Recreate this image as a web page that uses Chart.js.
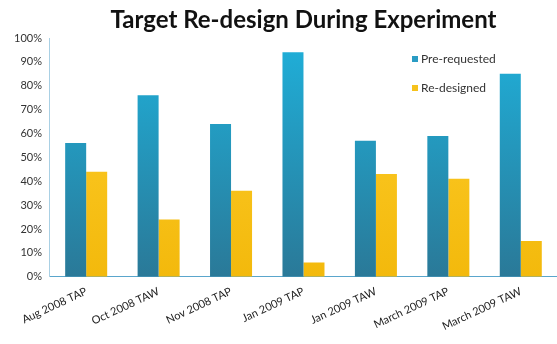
<!DOCTYPE html>
<html>
<head>
<meta charset="utf-8">
<script src="https://cdn.jsdelivr.net/npm/chart.js@4/dist/chart.umd.min.js"></script>
<style>
  html, body { margin: 0; padding: 0; background: #fff; }
  #wrap { width: 557px; height: 344px; }
</style>
</head>
<body>
<div id="wrap"><canvas id="chart"></canvas></div>
<script>
// chart data
const titleText = 'Target Re-design During Experiment';
const categories = [
    'Aug 2008 TAP',
    'Oct 2008 TAW',
    'Nov 2008 TAP',
    'Jan 2009 TAP',
    'Jan 2009 TAW',
    'March 2009 TAP',
    'March 2009 TAW'
];
const seriesNames = ['Pre-requested', 'Re-designed'];
const preRequested = [56, 76, 64, 94, 57, 59, 85];
const reDesigned = [44, 24, 36, 6, 43, 41, 15];
const yTicks = [0, 10, 20, 30, 40, 50, 60, 70, 80, 90, 100];

// vertical gradient for the bars
function barFill(top, bottom){
    return function(c){
        const area = c.chart.chartArea;
        if(!area) return top;
        const g = c.chart.ctx.createLinearGradient(0, area.top, 0, area.bottom);
        g.addColorStop(0, top);
        g.addColorStop(1, bottom);
        return g;
    };
}

// title over the plot area and the legend inside it
const overlay = {
    id: 'overlay',
    afterDraw(chart){
        const ctx = chart.ctx;
        const area = chart.chartArea;
        ctx.save();
        ctx.fillStyle = '#111';
        ctx.font = 'bold 24px Lato';
        ctx.textAlign = 'center';
        ctx.textBaseline = 'middle';
        ctx.fillText(titleText, (area.left + area.right) / 2, 20);
        ctx.font = '12px Lato';
        ctx.textAlign = 'left';
        chart.data.datasets.forEach(function(ds, i){
            const y = 59 + i * 29;
            ctx.fillStyle = ds.legendColor;
            ctx.fillRect(412, y - 3, 6, 6);
            ctx.fillStyle = '#333';
            ctx.fillText(ds.label, 421, y);
        });
        ctx.restore();
    }
};

const ctx = document.getElementById('chart').getContext('2d');
const chart = new Chart(ctx, {
    type: 'bar',
    data: {
        labels: categories,
        datasets: [{
            label: seriesNames[0],
            data: preRequested,
            backgroundColor: barFill('#1fb0da', '#2a7998'),
            legendColor: '#2a9cc4',
            categoryPercentage: 0.58,
            barPercentage: 1.0
        }, {
            label: seriesNames[1],
            data: reDesigned,
            backgroundColor: barFill('#ffcf2e', '#f3b90c'),
            legendColor: '#f6c21c',
            categoryPercentage: 0.58,
            barPercentage: 1.0
        }]
    },
    options: {
        responsive: true,
        maintainAspectRatio: false,
        animation: false,
        layout: {
            padding: { top: 38, right: 0, left: 6, bottom: 3 }
        },
        plugins: {
            legend: { display: false },
            title: { display: false },
            tooltip: { enabled: false }
        },
        scales: {
            x: {
                grid: { display: false, drawTicks: false },
                border: { color: '#5aa6cc', width: 1 },
                ticks: {
                    minRotation: 25,
                    maxRotation: 25,
                    padding: 8,
                    color: '#222',
                    font: { family: 'Lato', size: 11 }
                }
            },
            y: {
                min: 0,
                max: 100,
                afterBuildTicks: function(axis){
                    axis.ticks = yTicks.map(function(v){ return { value: v }; });
                },
                grid: { display: false, drawTicks: false },
                border: { color: '#a9d0e4', width: 1 },
                ticks: {
                    padding: 8,
                    color: '#333',
                    font: { family: 'Lato', size: 11 },
                    callback: function(v){ return v + '%'; }
                }
            }
        }
    },
    plugins: [overlay]
});
</script>
</body>
</html>
